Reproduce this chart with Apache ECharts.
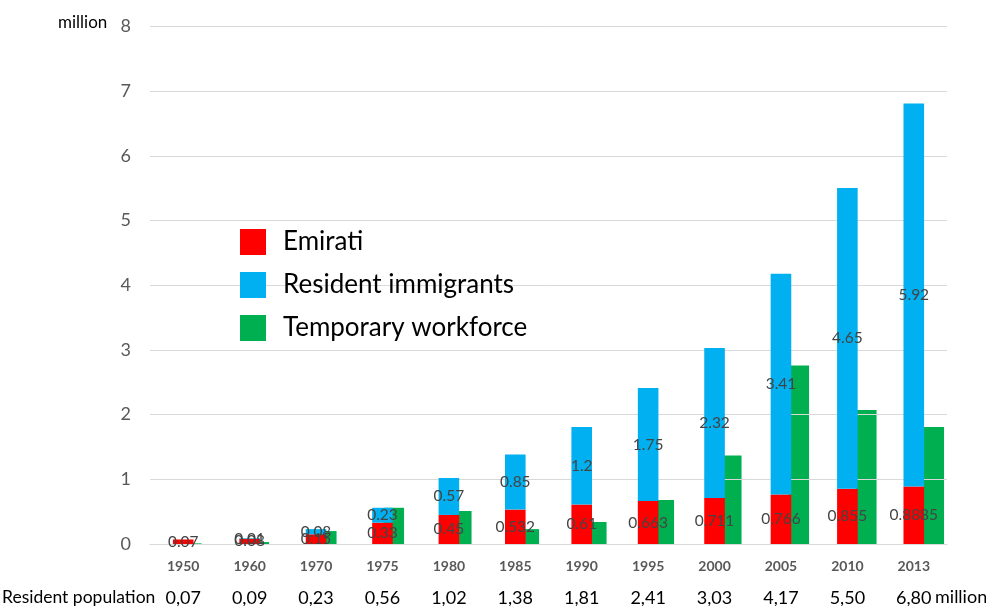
<!DOCTYPE html>
<html>
<head>
<meta charset="utf-8">
<script src="https://cdn.jsdelivr.net/npm/echarts@6/dist/echarts.min.js"></script>
<style>
html,body{margin:0;padding:0;background:#fff;}
#chart{width:986px;height:606px;}
</style>
</head>
<body>
<div id="chart"></div>
<script>
var years = ['1950','1960','1970','1975','1980','1985','1990','1995','2000','2005','2010','2013'];
var emirati = [0.07,0.08,0.15,0.33,0.45,0.532,0.61,0.663,0.711,0.766,0.855,0.8885];
var immigrants = [0,0.01,0.08,0.23,0.57,0.85,1.2,1.75,2.32,3.41,4.65,5.92];
var temporary = [0.01,0.03,0.2,0.56,0.51,0.23,0.34,0.68,1.37,2.76,2.07,1.81];
var population = ['0,07','0,09','0,23','0,56','1,02','1,38','1,81','2,41','3,03','4,17','5,50','6,80'];
var yTicks = [0,1,2,3,4,5,6,7,8];

var FONT = 'Lato';
var chart = echarts.init(document.getElementById('chart'));
var lbl = {
  show: true, position: 'inside', color: '#444444', fontFamily: FONT, fontSize: 15.5,
  formatter: function(p){ return p.value ? String(p.value) : ''; }
};
chart.setOption({
  animation: false,
  backgroundColor: '#fff',
  textStyle: {fontFamily: FONT},
  grid: [
    {left: 150, right: 39, top: 26.5, bottom: 62, outerBoundsMode: 'none', containLabel: false},
    {left: 157.5, right: 18.5, top: 26.5, bottom: 62, outerBoundsMode: 'none', containLabel: false}
  ],
  legend: {
    orient: 'vertical', left: 240, top: 229, padding: 0,
    itemWidth: 26, itemHeight: 26, itemGap: 17, icon: 'rect',
    data: ['Emirati','Resident immigrants','Temporary workforce'],
    textStyle: {fontFamily: FONT, fontSize: 26, color: '#000', padding: [0,0,0,12]}
  },
  xAxis: [
    {
      type: 'category', gridIndex: 0, data: years,
      axisLine: {lineStyle: {color: '#d9d9d9', width: 1}},
      axisTick: {show: false},
      axisLabel: {
        margin: 12, interval: 0,
        formatter: function(v, i){ return '{y|' + v + '}\n{p|' + population[i] + '}'; },
        rich: {
          y: {fontFamily: FONT, fontSize: 14, fontWeight: 'bold', color: '#595959', lineHeight: 20},
          p: {fontFamily: FONT, fontSize: 18, color: '#000', lineHeight: 44}
        }
      }
    },
    {type: 'category', gridIndex: 1, data: years, show: false}
  ],
  yAxis: [
    {
      type: 'value', gridIndex: 0, min: 0, max: 8, interval: 1, z: 2,
      axisLine: {show: false}, axisTick: {show: false},
      splitLine: {lineStyle: {color: '#d9d9d9', width: 1}},
      axisLabel: {margin: 19, color: '#595959', fontFamily: FONT, fontSize: 18,
        formatter: function(v){ return yTicks.indexOf(v) >= 0 ? String(v) : ''; }}
    },
    {type: 'value', gridIndex: 1, min: 0, max: 8, interval: 1, show: false, splitLine: {show: false}}
  ],
  series: [
    {
      name: 'Emirati', type: 'bar', stack: 'res', xAxisIndex: 0, yAxisIndex: 0,
      data: emirati, barWidth: 20.6, z: 3,
      itemStyle: {color: '#ff0000'}, label: lbl
    },
    {
      name: 'Resident immigrants', type: 'bar', stack: 'res', xAxisIndex: 0, yAxisIndex: 0,
      data: immigrants, barWidth: 20.6, z: 3,
      itemStyle: {color: '#00b0f0'}, label: lbl
    },
    {
      name: 'Temporary workforce', type: 'bar', xAxisIndex: 1, yAxisIndex: 1,
      data: temporary, barWidth: 20.6, z: 1,
      itemStyle: {color: '#00b050'}
    }
  ],
  graphic: [
    {type: 'text', left: 58, top: 14, style: {text: 'million', fontFamily: FONT, fontSize: 17, fill: '#000'}},
    {type: 'text', left: 2, top: 588, style: {text: 'Resident population', fontFamily: FONT, fontSize: 17.5, fill: '#000'}},
    {type: 'text', left: 935, top: 588, style: {text: 'million', fontFamily: FONT, fontSize: 18, fill: '#000'}}
  ]
});
</script>
</body>
</html>
